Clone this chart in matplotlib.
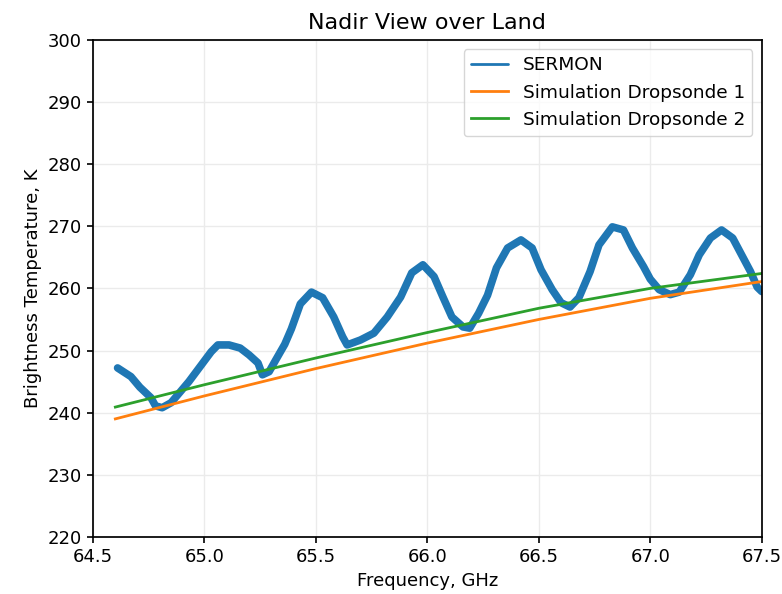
"""
Nadir view over land: SERMON brightness temperature vs two dropsonde simulations
"""
import matplotlib
matplotlib.use('Agg')
import matplotlib.pyplot as plt

sermon_freq = [64.61, 64.67, 64.71, 64.76, 64.78, 64.81, 64.85, 64.89, 64.93, 64.98,
               65.03, 65.06, 65.11, 65.16, 65.20, 65.24, 65.26, 65.29, 65.32, 65.36,
               65.39, 65.43, 65.48, 65.53, 65.58, 65.62, 65.64, 65.70, 65.76, 65.82,
               65.88, 65.93, 65.98, 66.03, 66.07, 66.11, 66.16, 66.19, 66.23, 66.27,
               66.31, 66.36, 66.42, 66.47, 66.51, 66.56, 66.60, 66.64, 66.68, 66.73,
               66.77, 66.83, 66.88, 66.92, 66.97, 67.00, 67.04, 67.09, 67.13, 67.18,
               67.22, 67.27, 67.32, 67.37, 67.41, 67.45, 67.48, 67.50]
sermon_tb = [247.2, 245.8, 244.1, 242.4, 241.1, 240.8, 241.6, 243.3, 245.0, 247.4,
             249.8, 250.9, 250.9, 250.4, 249.3, 248.0, 246.1, 246.6, 248.5, 251.0,
             253.5, 257.5, 259.4, 258.5, 255.4, 252.2, 250.9, 251.7, 252.8, 255.4,
             258.6, 262.5, 263.8, 261.9, 258.6, 255.4, 253.8, 253.6, 256.0, 258.9,
             263.3, 266.5, 267.8, 266.5, 263.0, 259.8, 257.7, 257.0, 258.5, 262.7,
             267.0, 269.9, 269.4, 266.5, 263.5, 261.5, 259.8, 259.0, 259.4, 262.2,
             265.4, 268.1, 269.4, 268.1, 265.4, 262.7, 260.2, 259.5]

# simulations
sim_freq = [64.6, 65.0, 65.5, 66.0, 66.5, 67.0, 67.5]
sim1_tb = [239.0, 242.7, 247.1, 251.2, 255.0, 258.4, 261.1]
sim2_tb = [240.9, 244.5, 248.8, 252.9, 256.8, 260.0, 262.4]

plt.rcParams['axes.linewidth'] = 1.25
plt.rcParams['xtick.major.size'] = 4.5
plt.rcParams['ytick.major.size'] = 4.5
plt.rcParams['xtick.major.width'] = 1.2
plt.rcParams['ytick.major.width'] = 1.2

fig = plt.figure(figsize=(7.82, 5.94), dpi=100)
ax = fig.add_axes([0.119, 0.096, 0.855, 0.837])

ax.plot(sermon_freq, sermon_tb, color='#1f77b4', lw=5.5, label='SERMON',
        solid_joinstyle='round', solid_capstyle='round')
ax.plot(sim_freq, sim1_tb, color='#ff7f0e', lw=2, label='Simulation Dropsonde 1')
ax.plot(sim_freq, sim2_tb, color='#2ca02c', lw=2, label='Simulation Dropsonde 2')

ax.set_xlim(64.5, 67.5)
ax.set_ylim(220, 300)
ax.set_xticks([64.5, 65.0, 65.5, 66.0, 66.5, 67.0, 67.5])
ax.set_yticks(range(220, 301, 10))
ax.tick_params(labelsize=13)
ax.grid(True, color='#ebebeb', lw=1.0)
ax.set_axisbelow(True)

ax.set_title('Nadir View over Land', fontsize=16, pad=8)
ax.set_xlabel('Frequency, GHz', fontsize=13)
ax.set_ylabel('Brightness Temperature, K', fontsize=13)

leg = ax.legend(loc='upper right', fontsize=13.3)
for h in leg.get_lines():
    h.set_linewidth(2)

fig.savefig('out.png', dpi=100, facecolor='white')
plt.close(fig)
